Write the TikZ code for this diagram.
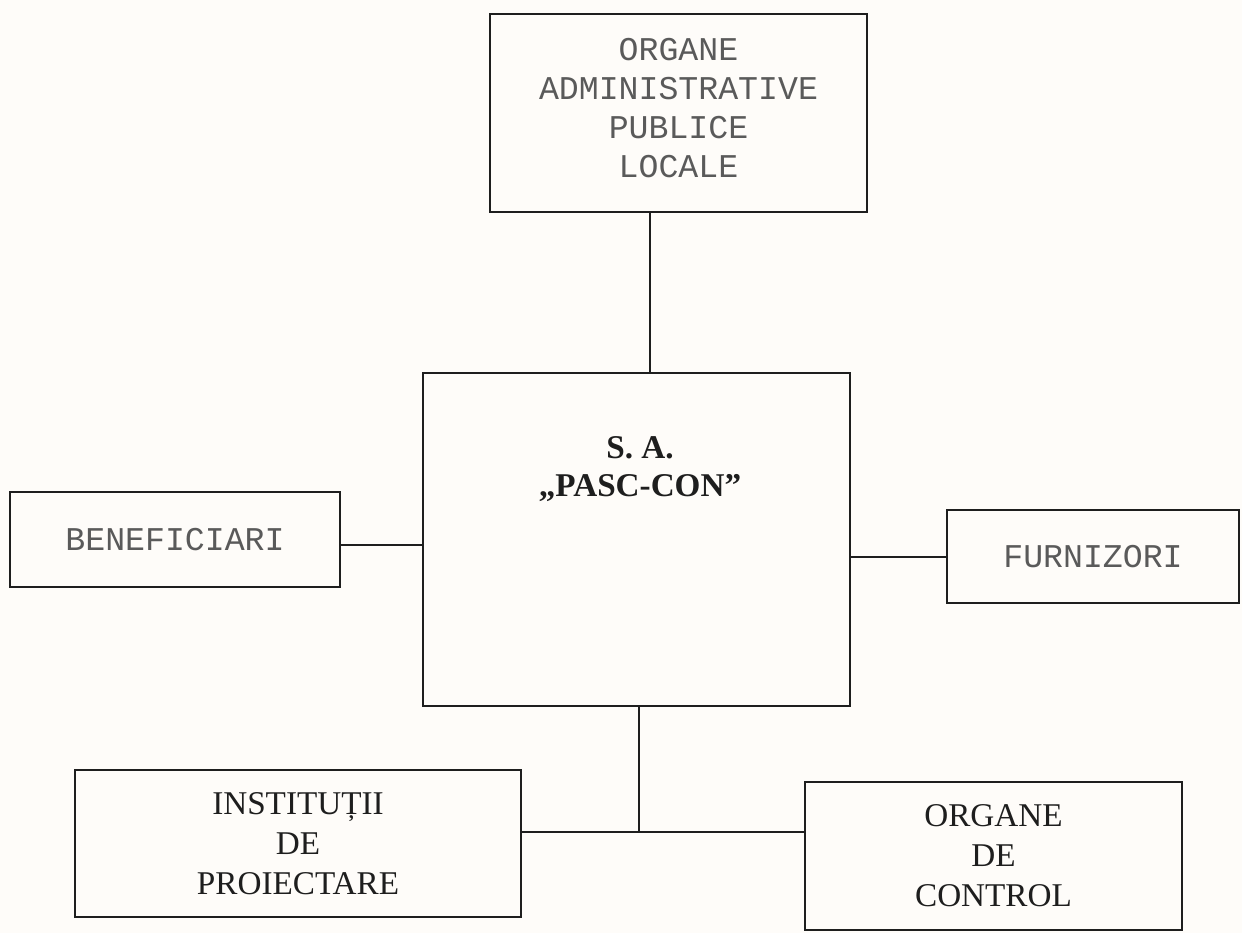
\documentclass[tikz,border=0pt]{standalone}
\usepackage{fontspec}
\setmainfont{Liberation Serif}
\newfontfamily\monofont{Liberation Mono}
\definecolor{paper}{RGB}{254,252,249}
\definecolor{ink}{RGB}{30,30,30}
\definecolor{monoink}{RGB}{90,90,90}
\begin{document}
\begin{tikzpicture}[x=0.5pt,y=-0.5pt,
  box/.style={draw=ink, line width=0.9pt, inner sep=0pt, align=center},
  mono/.style={font=\monofont\fontsize{16.6}{19.5}\selectfont, text=monoink},
  serif/.style={font=\fontsize{16.6}{20}\selectfont, text=ink},
  boldtext/.style={font=\bfseries\fontsize{16.6}{19}\selectfont, text=ink, align=center},
  conn/.style={draw=ink, line width=0.9pt}]
\useasboundingbox[fill=paper] (0,0) rectangle (1242,933);

\node[box, minimum width=188.5pt, minimum height=99pt] (org) at (678.5,113) {};
\node[mono, align=center] (orgtext) at (678.5,108)
  {ORGANE\\ADMINISTRATIVE\\PUBLICE\\LOCALE};
\node[box, minimum width=213.5pt, minimum height=166.5pt] (sa) at (636.5,539.5) {};
\node[boldtext] (satext) at (640,469) {S. A.\\„PASC-CON”};
\node[box, mono, minimum width=165pt, minimum height=47.5pt] (ben) at (175,539.5) {BENEFICIARI};
\node[box, mono, minimum width=146pt, minimum height=46.5pt] (fur) at (1093,556.5) {FURNIZORI};
\node[box, serif, minimum width=223pt, minimum height=73.5pt] (inst) at (298,843.5)
  {INSTITUȚII\\DE\\PROIECTARE};
\node[box, serif, minimum width=188.5pt, minimum height=74pt] (ctrl) at (993.5,856)
  {ORGANE\\DE\\CONTROL};

\coordinate (vtop) at (650,0);
\coordinate (hl) at (0,545);
\coordinate (hr) at (0,557);
\coordinate (vb) at (639,0);
\coordinate (hb) at (0,832);
\coordinate (jn) at (639,832);

\draw[conn] (org.south -| vtop) -- (sa.north -| vtop);
\draw[conn] (ben.east |- hl) -- (sa.west |- hl);
\draw[conn] (sa.east |- hr) -- (fur.west |- hr);
\draw[conn] (sa.south -| vb) -- (jn);
\draw[conn] (inst.east |- hb) -- (ctrl.west |- hb);
\end{tikzpicture}
\end{document}
